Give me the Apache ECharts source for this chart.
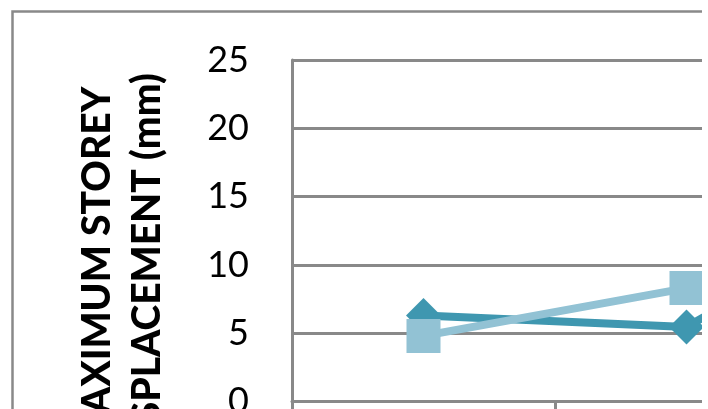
<!DOCTYPE html>
<html>
<head>
<meta charset="utf-8">
<script src="https://cdn.jsdelivr.net/npm/echarts@6/dist/echarts.min.js"></script>
<style>
  html, body { margin: 0; padding: 0; background: #ffffff; overflow: hidden; }
  #chart { width: 702px; height: 409px; }
</style>
</head>
<body>
<div id="chart"></div>
<script>
// Categories along the x axis and the two displacement series (mm)
const categories = ['A', 'B', 'C'];
const seriesA = [6.3, 5.45, 16.5];
const seriesB = [4.8, 8.3, 9.0];
const yTicks = { min: 0, max: 25, step: 5 };
const titleLines = ['MAXIMUM STOREY', 'DISPLACEMENT (mm)'];

const gray = '#898989';
const chart = echarts.init(document.getElementById('chart'), null, { renderer: 'canvas' });

chart.setOption({
  backgroundColor: '#ffffff',
  animation: false,
  grid: {
    left: 292, top: 60, width: 789, height: 341.5,
    containLabel: false,
    outerBoundsMode: 'none'
  },
  xAxis: {
    type: 'category',
    data: categories,
    boundaryGap: true,
    axisLine: { show: true, lineStyle: { color: gray, width: 3 } },
    axisTick: { show: true, length: 9, lineStyle: { color: gray, width: 3 } },
    axisLabel: { show: false },
    splitLine: { show: false }
  },
  yAxis: {
    type: 'value',
    min: yTicks.min,
    max: yTicks.max,
    interval: yTicks.step,
    axisLine: { show: true, lineStyle: { color: gray, width: 3 } },
    axisTick: { show: false },
    axisLabel: {
      margin: 43,
      color: '#000000',
      fontFamily: 'Lato',
      fontSize: 36
    },
    splitLine: { show: true, lineStyle: { color: gray, width: 3 } }
  },
  graphic: [
    {
      type: 'rect',
      shape: { x: 12.5, y: 11.5, width: 900, height: 600 },
      style: { fill: 'none', stroke: gray, lineWidth: 2.5 },
      silent: true,
      z: -10
    },
    {
      type: 'text',
      x: 97, y: 269,
      rotation: Math.PI / 2,
      style: {
        text: titleLines[0],
        fontFamily: 'Lato', fontWeight: 900, fontSize: 39,
        fill: '#000000', textAlign: 'center', textVerticalAlign: 'middle'
      }
    },
    {
      type: 'text',
      x: 147, y: 269,
      rotation: Math.PI / 2,
      style: {
        text: titleLines[1],
        fontFamily: 'Lato', fontWeight: 900, fontSize: 39,
        fill: '#000000', textAlign: 'center', textVerticalAlign: 'middle'
      }
    }
  ],
  series: [
    {
      type: 'line',
      data: seriesA,
      symbol: 'diamond',
      symbolSize: 35,
      lineStyle: { color: '#3F97B0', width: 8 },
      itemStyle: { color: '#3F97B0' },
      z: 2
    },
    {
      type: 'line',
      data: seriesB,
      symbol: 'rect',
      symbolSize: 34,
      lineStyle: { color: '#92C2D4', width: 8 },
      itemStyle: { color: '#92C2D4', borderRadius: 2 },
      z: 3
    }
  ]
});
</script>
</body>
</html>
